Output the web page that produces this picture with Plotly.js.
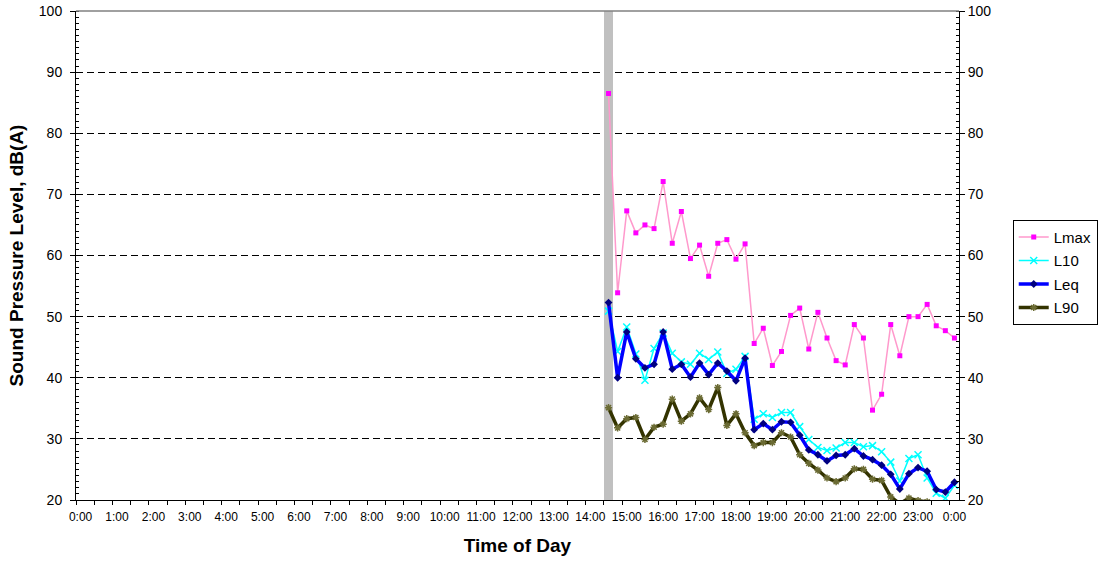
<!DOCTYPE html>
<html>
<head>
<meta charset="utf-8">
<script src="https://cdn.plot.ly/plotly-3.0.1.min.js"></script>
<style>html,body{margin:0;padding:0;background:#fff;}#chart{width:1099px;height:562px;}</style>
</head>
<body>
<div id="chart"></div>
<script>
// ---- data ----
const times = ["14:30","14:45","15:00","15:15","15:30","15:45","16:00","16:15","16:30","16:45",
  "17:00","17:15","17:30","17:45","18:00","18:15","18:30","18:45","19:00","19:15",
  "19:30","19:45","20:00","20:15","20:30","20:45","21:00","21:15","21:30","21:45",
  "22:00","22:15","22:30","22:45","23:00","23:15","23:30","23:45","0:00"];
const lmax = [86.5,53.9,67.3,63.7,65.0,64.4,72.1,62.0,67.2,59.5,61.7,56.6,62.0,62.6,59.4,61.9,
  45.6,48.1,42.0,44.3,50.2,51.4,44.7,50.7,46.5,42.8,42.1,48.7,46.5,34.7,37.3,48.7,43.6,50.0,
  50.0,52.0,48.5,47.7,46.5];
const l10 = [50.9,44.3,48.3,43.9,39.6,44.8,47.3,44.0,42.6,42.2,44.0,43.0,44.2,40.7,41.4,43.5,
  33.2,34.1,33.5,34.3,34.3,32.0,29.9,28.6,28.1,28.5,29.4,29.4,28.7,28.9,27.9,26.2,23.1,26.8,
  27.4,23.6,21.1,20.3,22.4];
const leq = [52.3,40.0,47.5,43.1,41.6,42.2,47.5,41.4,42.2,40.1,42.4,40.5,42.4,41.1,39.5,43.2,
  31.5,32.5,31.5,32.8,32.7,30.6,28.2,27.4,26.4,27.3,27.4,28.4,27.2,26.6,25.7,24.2,21.8,24.3,
  25.3,24.7,21.7,21.3,22.9];
const l90 = [35.1,31.8,33.3,33.5,29.9,31.9,32.4,36.5,32.9,34.1,36.7,34.8,38.4,32.2,34.1,31.0,
  28.9,29.4,29.4,31.0,30.3,27.4,26.0,24.9,23.6,23.0,23.6,25.1,25.0,23.4,23.2,20.5,19.4,20.3,
  19.9,19.7,18.6,18.2,18.8];
const eventTimes = ["14:30"];
const eventLevels = [100];
const hourLabels = ["0:00","1:00","2:00","3:00","4:00","5:00","6:00","7:00","8:00","9:00","10:00",
  "11:00","12:00","13:00","14:00","15:00","16:00","17:00","18:00","19:00","20:00","21:00",
  "22:00","23:00","0:00"];

// convert clock strings to hours, wrapping past midnight
function toHours(list) {
  let prev = -1;
  return list.map(s => {
    const p = s.split(":");
    let h = +p[0] + (+p[1]) / 60;
    while (h < prev) h += 24;
    prev = h;
    return h;
  });
}
const x = toHours(times);
const xEvent = toHours(eventTimes);
const hourVals = toHours(hourLabels);

const font = "Liberation Sans, Arial, sans-serif";

const traces = [
  {type:"bar", x:xEvent, y:eventLevels, width:0.25, marker:{color:"#C0C0C0", line:{width:0}},
   showlegend:false, hoverinfo:"skip", xaxis:"x", yaxis:"y"},
  {type:"scatter", mode:"lines+markers", name:"Lmax", x:x, y:lmax, xaxis:"x", yaxis:"y2",
   line:{color:"#FF99CC", width:1.5}, marker:{symbol:"square", size:5, color:"#FF00FF"}, legendgroup:"a"},
  {type:"scatter", mode:"lines+markers", name:"L10", x:x, y:l10, xaxis:"x", yaxis:"y2",
   line:{color:"#00FFFF", width:1.5}, marker:{symbol:"x-thin-open", size:7, color:"#00FFFF", line:{width:1.5, color:"#00FFFF"}}, legendgroup:"b"},
  {type:"scatter", mode:"lines+markers", name:"Leq", x:x, y:leq, xaxis:"x", yaxis:"y2",
   line:{color:"#0000FF", width:3.5}, marker:{symbol:"diamond", size:6, color:"#000080"}, legendgroup:"c"},
  {type:"scatter", mode:"lines+markers", name:"L90", x:x, y:l90, xaxis:"x", yaxis:"y2",
   line:{color:"#333300", width:3.5}, marker:{symbol:"asterisk-open", size:6, color:"#6B6B33", line:{width:1.5, color:"#6B6B33"}}, legendgroup:"d"}
];

const layout = {
  width:1099, height:562,
  margin:{l:76, r:140, t:10.5, b:62, pad:0},
  paper_bgcolor:"#fff", plot_bgcolor:"#fff",
  font:{family:font, color:"#000"},
  bargap:0,
  showlegend:true,
  legend:{xref:"container", yref:"container", x:0.9215, xanchor:"left", y:0.609, yanchor:"top",
          bgcolor:"#fff", bordercolor:"#000", borderwidth:1,
          font:{family:font, size:15, color:"#000"}, traceorder:"grouped", tracegroupgap:1, itemwidth:30},
  xaxis:{type:"linear", range:[-0.125, 24.125], fixedrange:true,
         tickvals:hourVals, ticktext:hourLabels, ticks:"", showgrid:false, zeroline:false,
         tickfont:{family:font, size:12, color:"#000"}, ticklabelstandoff:6,
         showline:true, linecolor:"#000", linewidth:1,
         minor:{ticks:"outside", tick0:-0.125, dtick:0.5, ticklen:4, tickcolor:"#000", tickwidth:1, showgrid:false},
         title:{text:"Time of Day", font:{family:font, size:19, color:"#000", weight:"bold"}, standoff:15}},
  yaxis:{range:[20,100], dtick:10, tick0:0, fixedrange:true, zeroline:false,
         ticks:"outside", ticklen:5, tickcolor:"#000", tickwidth:1,
         tickfont:{family:font, size:14, color:"#000"}, ticklabelstandoff:5,
         showline:true, linecolor:"#000", linewidth:1,
         showgrid:true, gridcolor:"#000", gridwidth:1, griddash:"7px,4px",
         minor:{ticks:"inside", dtick:1, ticklen:3, tickcolor:"#000", tickwidth:1, showgrid:false},
         title:{text:"Sound Pressure Level, dB(A)", font:{family:font, size:19, color:"#000", weight:"bold"}, standoff:10}},
  yaxis2:{range:[20,100], dtick:10, tick0:0, overlaying:"y", side:"right", fixedrange:true, zeroline:false,
          ticks:"outside", ticklen:5, tickcolor:"#000", tickwidth:1,
          tickfont:{family:font, size:14, color:"#000"},
          showline:true, linecolor:"#000", linewidth:1, showgrid:false,
          minor:{ticks:"inside", dtick:1, ticklen:3, tickcolor:"#000", tickwidth:1, showgrid:false}},
  shapes:[{type:"line", xref:"paper", yref:"paper", x0:0, x1:1, y0:1, y1:1, line:{color:"#808080", width:1.5}, layer:"above"}]
};

Plotly.newPlot("chart", traces, layout, {displayModeBar:false, staticPlot:true});
</script>
</body>
</html>
